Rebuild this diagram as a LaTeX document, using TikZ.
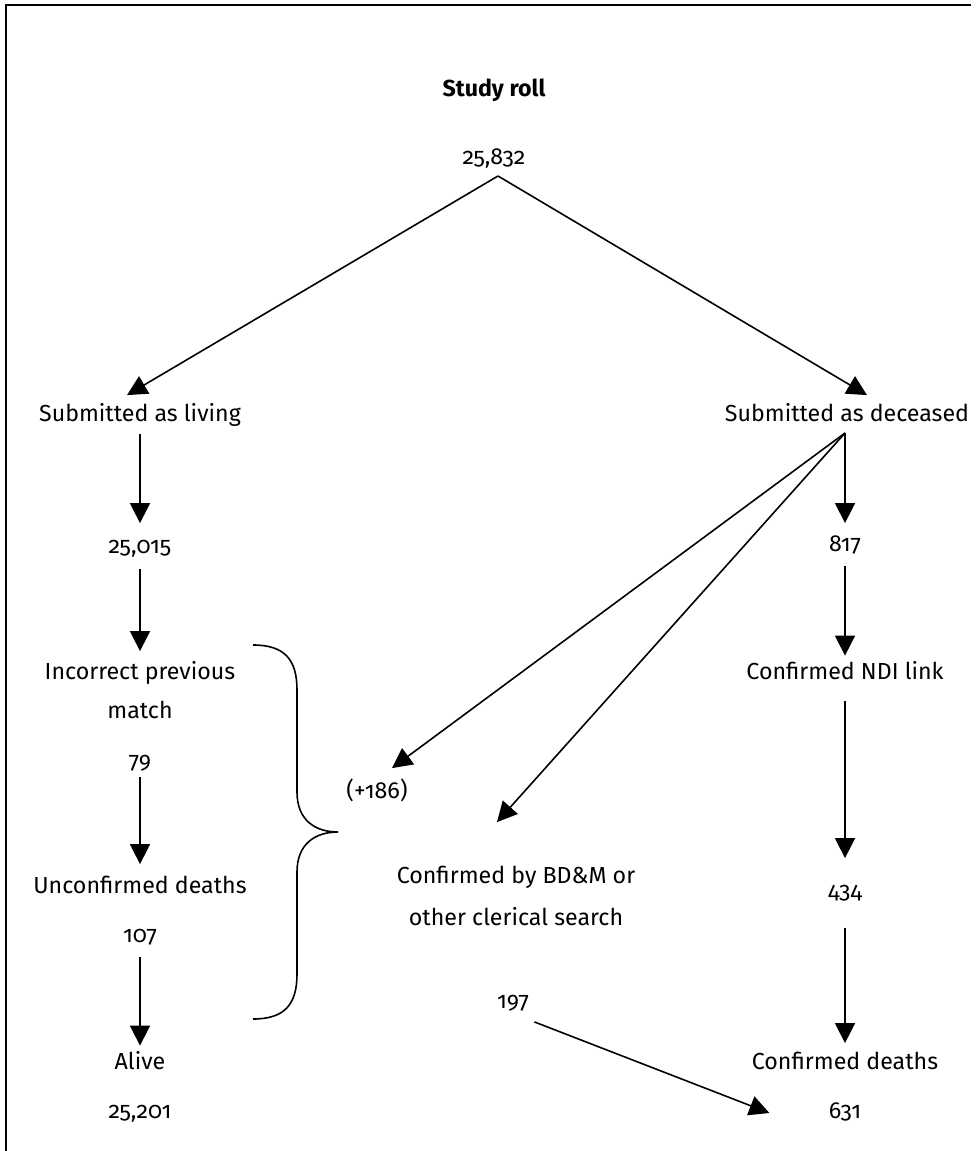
\documentclass[tikz,border=0pt]{standalone}
\usepackage{fontspec}
\setmainfont{Fira Sans}[Numbers=OldStyle]
\usepackage{tikz}
\usetikzlibrary{arrows.meta, positioning, calc}

\begin{document}
\begin{tikzpicture}[
  x=0.5pt, y=-0.5pt,
  every node/.style={font=\fontsize{11.6}{14}\selectfont},
  lbl/.style={inner sep=0pt, text height=8pt, text depth=2.5pt},
  arr/.style={-{Triangle[length=10pt, width=10pt]}, line width=0.8pt, shorten <=4.5pt, shorten >=5.5pt},
]
\useasboundingbox (0,0) rectangle (975,1151);

% Frame (top and left only)
\draw[line width=1pt] (971,5) -- (6,5) -- (6,1151);

% Top
\node[lbl, font=\fontsize{11.6}{14}\selectfont\bfseries] (roll) at (494,91) {Study roll};
\node[lbl] (n25832) at (494,159) {25,832};
\coordinate (apex) at (498,176);

% Living branch
\node[lbl] (living) at (140,416) {Submitted as living};
\node[lbl] (n25015) at (140,548) {25,015};
\node[lbl] (incorrect) at (140,674) {Incorrect previous};
\node[lbl] (match) at (140,713) {match};
\node[lbl] (n79) at (140,763) {79};
\node[lbl] (unconf) at (140,888) {Unconfirmed deaths};
\node[lbl] (n107) at (140,937) {107};
\node[lbl] (alive) at (140,1064) {Alive};
\node[lbl] (n25201) at (140,1113) {25,201};

% Deceased branch
\node[lbl] (deceased) at (847,416) {Submitted as deceased};
\coordinate (fork) at (845,433);
\node[lbl] (n817) at (845,546) {817};
\node[lbl] (ndi) at (845,674) {Confirmed NDI link};
\node[lbl] (n434) at (845,893) {434};
\node[lbl] (cdeaths) at (845,1064) {Confirmed deaths};
\node[lbl] (n631) at (845,1113) {631};

% Middle
\node[lbl] (plus) at (377,793) {(+186)};
\node[lbl] (bdm) at (516,878) {Confirmed by BD\&M or};
\node[lbl] (clerical) at (516,920) {other clerical search};
\node[lbl] (n197) at (513,1003) {197};

% Connectors
\draw[arr, shorten <=0pt, shorten >=0pt] (apex) -- ($(living.north)+(-13,-10)$);
\draw[arr, shorten <=0pt, shorten >=0pt] (apex) -- ($(deceased.north)+(20,-10)$);

\draw[arr, shorten <=3.5pt, shorten >=7pt] (living) -- (n25015);
\draw[arr, shorten <=5pt, shorten >=6pt] (n25015) -- (incorrect);
\draw[arr, shorten <=1.5pt, shorten >=6.5pt] (n79) -- (unconf);
\draw[arr, shorten >=3.75pt] (n107) -- (alive);

\draw[arr, shorten <=0pt, shorten >=6pt] (fork) -- (n817);
\draw[arr, shorten >=3.75pt] (n817) -- (ndi);
\draw[arr, shorten <=8pt, shorten >=12pt] (ndi) -- (n434);
\draw[arr, shorten <=12pt, shorten >=5pt] (n434) -- (cdeaths);

\draw[arr, shorten <=0pt, shorten >=0pt] (fork) -- ($(plus.north)+(15,-14)$);
\draw[arr, shorten <=0pt, shorten >=0pt] (fork) -- ($(bdm.north)+(-19,-45)$);
\draw[arr, shorten <=0pt, shorten >=0pt] ($(n197.south east)+(5,8)$) -- ($(n631.west)+(-59,0)$);

% Brace
\draw[line width=0.8pt] (253,645) .. controls (285,645) and (297,660) .. (297,690) -- (297,792)
  .. controls (297,820) and (315,832) .. (338,832)
  .. controls (315,832) and (297,844) .. (297,872) -- (297,974)
  .. controls (297,1004) and (285,1019) .. (253,1019);

\end{tikzpicture}
\end{document}
